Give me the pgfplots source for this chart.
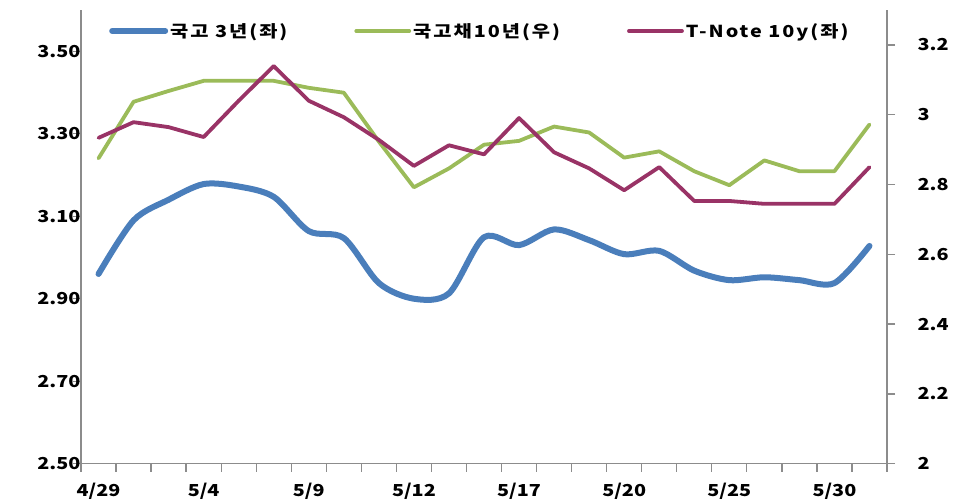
\documentclass[border=0pt]{standalone}
\usepackage{pgfplots}
\pgfplotsset{compat=1.18}
\usepackage{pgfplotstable}
\usepackage{fontspec}
\setmainfont{Noto Sans CJK KR}
\newfontfamily\lbl{Noto Sans CJK KR}[FakeStretch=1.2]
\newfontfamily\leg{Noto Sans CJK KR}[FakeStretch=1.2, LetterSpace=12]
\definecolor{cblue}{HTML}{4A7EBB}
\definecolor{cgreen}{HTML}{9BBB59}
\definecolor{cpurple}{HTML}{993366}
\definecolor{caxis}{HTML}{8C8C8C}

\pgfplotstableread{
x y
0 2.960
1 3.090
2 3.140
3 3.178
4 3.172
5 3.147
6 3.064
7 3.047
8 2.938
9 2.900
10 2.913
11 3.049
12 3.030
13 3.068
14 3.042
15 3.008
16 3.016
17 2.968
18 2.945
19 2.952
20 2.945
21 2.938
22 3.028
}\ktb

\pgfplotstableread{
x y
0 2.875
1 3.037
2 3.068
3 3.097
4 3.097
5 3.097
6 3.077
7 3.063
8 2.923
9 2.792
10 2.846
11 2.914
12 2.925
13 2.966
14 2.949
15 2.877
16 2.895
17 2.838
18 2.798
19 2.869
20 2.838
21 2.838
22 2.972
}\ktbten

\pgfplotstableread{
x y
0 3.290
1 3.328
2 3.316
3 3.292
4 3.380
5 3.464
6 3.380
7 3.340
8 3.285
9 3.222
10 3.272
11 3.250
12 3.338
13 3.255
14 3.216
15 3.163
16 3.219
17 3.137
18 3.137
19 3.130
20 3.130
21 3.130
22 3.219
}\tnote

\begin{document}
\begin{tikzpicture}
\path[use as bounding box] (-81pt,-36.3pt) rectangle (874pt,463.7pt);
\pgfplotsset{
  common/.style={
    scale only axis, width=806pt, height=453.7pt,
    xmin=-0.5, xmax=22.5,
    axis line style={draw=caxis, line width=1.3pt, -},
    tick style={draw=caxis, line width=1.3pt},
    tick align=outside,
    major tick length=8pt,
    ticklabel style={font=\lbl\fontsize{16.5}{18}\selectfont\bfseries},
    /pgf/number format/assume math mode=true,
    clip=false,
  }
}
\begin{axis}[common,
  ymin=2, ymax=3.3,
  axis x line=none, axis y line*=right,
  ytick={2,2.2,2.4,2.6,2.8,3,3.2},
  yticklabel style={anchor=west, xshift=19pt},
]
\addplot[cgreen, line width=3.8pt, line join=round, line cap=round] table[x=x,y=y] {\ktbten};
\end{axis}
\begin{axis}[common,
  ymin=2.5, ymax=3.6,
  axis x line*=bottom, axis y line*=left,
  ytick={2.5,2.7,2.9,3.1,3.3,3.5},
  yticklabel style={/pgf/number format/fixed, /pgf/number format/fixed zerofill, /pgf/number format/precision=2, anchor=east, xshift=11pt},
  xtick={0,3,6,9,12,15,18,21},
  xticklabels={4/29,5/4,5/9,5/12,5/17,5/20,5/25,5/30},
  xtick style={draw=none},
  xticklabel style={yshift=-8pt},
  minor xtick={-0.5,0.5,...,22.5},
  minor tick length=8pt,
  minor x tick style={draw=caxis, line width=1.3pt},
  legend columns=3,
  legend style={at={(rel axis cs:0,1)}, anchor=west, xshift=25pt, yshift=-21pt,
    draw=none, fill=none, font=\leg\fontsize{16.5}{18}\selectfont\bfseries,
    /tikz/every even column/.append style={column sep=65pt}},
  legend image code/.code={\draw[#1] (0pt,0pt) -- (53pt,0pt);},
]
\addplot[cblue, line width=6pt, smooth, tension=0.5, line cap=round, line join=round] table[x=x,y=y] {\ktb};
\addlegendentry{국고 3년(좌)}
\addlegendimage{cgreen, line width=3.8pt, line cap=round}
\addlegendentry{국고채10년(우)}
\addplot[cpurple, line width=3.8pt, line join=round, line cap=round] table[x=x,y=y] {\tnote};
\addlegendentry{T-Note 10y(좌)}
\end{axis}
\end{tikzpicture}
\end{document}
